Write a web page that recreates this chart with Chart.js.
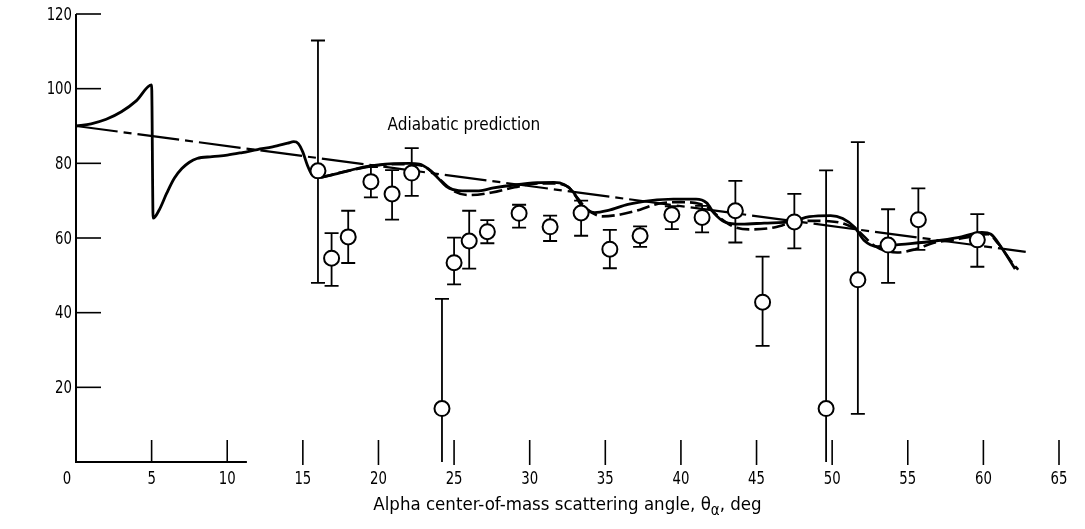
<!DOCTYPE html>
<html>
<head>
<meta charset="utf-8">
<script src="https://cdn.jsdelivr.net/npm/chart.js@4.4.1/dist/chart.umd.min.js"></script>
<style>
  body { margin: 0; background: #fff; }
  #wrap { width: 1085px; height: 529px; }
</style>
</head>
<body>
<div id="wrap"><canvas id="myChart" width="1085" height="529"></canvas></div>
<script>
// axis ticks
var xTicks = [0, 5, 10, 15, 20, 25, 30, 35, 40, 45, 50, 55, 60, 65];
var yTicks = [20, 40, 60, 80, 100, 120];

// measured points with error limits
var angle = [16.0, 16.9, 18.0, 19.5, 20.9, 22.2, 24.2, 25.0, 26.0, 27.2, 29.3, 31.35, 33.4,
             35.3, 37.3, 39.4, 41.4, 43.6, 45.4, 47.5, 49.6, 51.7, 53.7, 55.7, 59.6];
var ratio = [78.0, 54.6, 60.3, 75.1, 71.8, 77.4, 14.3, 53.4, 59.2, 61.7, 66.6, 63.0, 66.7,
             57.0, 60.6, 66.2, 65.5, 67.3, 42.8, 64.3, 14.3, 48.8, 58.1, 64.9, 59.5];
var errLow = [48.0, 47.2, 53.3, 70.9, 64.9, 71.3, 0, 47.6, 51.8, 58.6, 62.8, 59.2, 60.6,
              51.9, 57.6, 62.4, 61.5, 58.8, 31.1, 57.2, 0, 12.9, 48.0, 56.8, 52.3];
var errHigh = [112.9, 61.3, 67.3, 79.0, 78.2, 84.1, 43.7, 60.1, 67.3, 64.8, 68.9, 66.0, 70.0,
               62.2, 63.1, 68.5, 68.6, 75.3, 55.0, 71.8, 78.1, 85.7, 67.7, 73.3, 66.4];

// solid calculated curve
var solidX = [0, 1, 2, 3, 4, 5, 5.1, 5.5, 6, 6.5, 7, 7.5, 8, 9, 10, 11, 12, 13, 14, 14.4, 14.7,
              15, 15.3, 15.6, 16, 17, 18, 19, 20, 21, 22, 22.7, 23.3, 23.9, 24.5, 25.3, 26.5,
              27.6, 29, 30.5, 31.6, 32.3, 32.9, 33.4, 34.3, 35.2, 36.5, 38, 39.5, 41, 41.7,
              42.2, 42.9, 44, 45.5, 47.3, 48.5, 49.9, 50.7, 51.5, 52.1, 53, 54.6, 56.8, 58.3,
              59.9, 60.5, 61.2, 62.1];
var solidY = [90, 90.6, 91.8, 93.8, 96.8, 101, 65.3, 67.5, 72, 76, 78.6, 80.3, 81.3, 81.8, 82.2,
              82.9, 83.7, 84.4, 85.4, 85.8, 85.3, 83, 79.5, 77, 76.2, 77, 78, 79, 79.6, 79.9,
              80, 79.8, 78.5, 76.2, 73.8, 72.7, 72.6, 73.4, 74.2, 74.8, 74.9, 74.3, 72.2, 68.9,
              66.8, 67.4, 69, 70, 70.4, 70.4, 69.4, 66.6, 64.3, 63.7, 64.0, 64.4, 65.7, 66.0,
              65.2, 62.8, 59.4, 57.7, 58.3, 59.2, 60.1, 61.5, 61.0, 57.4, 51.7];

// dashed calculated curve
var dashX = [16.2, 18, 20, 22, 23, 23.6, 24.3, 25, 26, 27.5, 29, 30.5, 31.5, 32.5, 33.1, 33.8,
             34.8, 36, 37.3, 38.5, 40, 41.2, 41.9, 42.7, 43.5, 44.5, 46, 47.3, 48.5, 49.8,
             50.8, 51.7, 52.8, 54.3, 55.5, 56.8, 57.9, 59.5, 60.3, 61, 61.9, 62.3];
var dashY = [76.2, 78, 79.5, 79.8, 79.2, 77.5, 74.8, 72.5, 71.5, 72.2, 73.6, 74.6, 74.6, 73.8,
             71, 67.7, 65.8, 66.3, 67.6, 69.2, 69.6, 69.2, 67.8, 65, 63, 62.3, 62.7, 64, 64.6,
             64.5, 63.8, 61.9, 57.9, 56.1, 57, 58.8, 59.4, 60.6, 61, 58.4, 53.4, 51.5];

// adiabatic prediction line
var adiabaticX = [0, 62.8];
var adiabaticY = [90, 56.3];
var adiabaticLabel = 'Adiabatic prediction';
var adiabaticLabelAt = [20.6, 90];

var xTitle = ['Alpha center-of-mass scattering angle, \u03b8', '\u03b1', ', deg'];

var FONT = '"DejaVu Sans Condensed", "DejaVu Sans", sans-serif';

function pairs(xs, ys) {
    var out = [];
    for (var i = 0; i < xs.length; i++) out.push({x: xs[i], y: ys[i]});
    return out;
}

// horizontally squeezed text
function narrowText(c, text, x, y, align, sx) {
    c.save();
    c.translate(x, y);
    c.scale(sx, 1);
    c.textAlign = align;
    c.fillText(text, 0, 0);
    c.restore();
}

// axes drawn by hand: inward y ticks, floating x ticks, short x axis
var axesPlugin = {
    id: 'axesPlugin',
    beforeDatasetsDraw: function(chart) {
        var c = chart.ctx, xs = chart.scales.x, ys = chart.scales.y;
        var x0 = xs.getPixelForValue(0), y0 = ys.getPixelForValue(0);
        c.save();
        c.strokeStyle = '#000';
        c.fillStyle = '#000';
        c.lineWidth = 2;
        c.beginPath();
        c.moveTo(x0, ys.getPixelForValue(120));
        c.lineTo(x0, y0);
        c.lineTo(xs.getPixelForValue(11.3), y0);
        c.stroke();

        c.lineWidth = 1.6;
        c.font = '18px ' + FONT;
        c.textBaseline = 'middle';
        yTicks.forEach(function(v) {
            var py = ys.getPixelForValue(v);
            c.beginPath();
            c.moveTo(x0, py);
            c.lineTo(x0 + 25, py);
            c.stroke();
            narrowText(c, String(v), x0 - 4, py + 1, 'right', 0.82);
        });

        xTicks.forEach(function(v) {
            var px = xs.getPixelForValue(v);
            if (v > 0) {
                c.beginPath();
                c.moveTo(px, y0 - 22);
                c.lineTo(px, y0 + (v > 10 ? 3 : 0));
                c.stroke();
            }
            narrowText(c, String(v), v === 0 ? px - 9 : px, y0 + 17, 'center', 0.82);
        });

        // error bars
        c.lineWidth = 1.8;
        for (var i = 0; i < angle.length; i++) {
            var px = xs.getPixelForValue(angle[i]);
            var lo = ys.getPixelForValue(errLow[i]);
            var hi = ys.getPixelForValue(errHigh[i]);
            c.beginPath();
            c.moveTo(px, lo);
            c.lineTo(px, hi);
            c.moveTo(px - 7, hi);
            c.lineTo(px + 7, hi);
            if (errLow[i] > 0) {
                c.moveTo(px - 7, lo);
                c.lineTo(px + 7, lo);
            }
            c.stroke();
        }
        c.restore();
    },
    afterDraw: function(chart) {
        var c = chart.ctx, xs = chart.scales.x, ys = chart.scales.y;
        c.save();
        c.fillStyle = '#000';
        c.textBaseline = 'middle';
        c.textAlign = 'left';
        c.font = '17px ' + FONT;
        c.fillText(adiabaticLabel, xs.getPixelForValue(adiabaticLabelAt[0]), ys.getPixelForValue(adiabaticLabelAt[1]));

        // x title with subscript alpha
        var big = '18.5px ' + FONT, small = '15px ' + FONT;
        c.font = big;
        var w0 = c.measureText(xTitle[0]).width;
        var w2 = c.measureText(xTitle[2]).width;
        c.font = small;
        var w1 = c.measureText(xTitle[1]).width;
        var cx = (xs.getPixelForValue(0) + xs.getPixelForValue(65)) / 2;
        var left = cx - (w0 + w1 + w2) / 2;
        var base = ys.getPixelForValue(0) + 48;
        c.textBaseline = 'alphabetic';
        c.font = big;
        c.fillText(xTitle[0], left, base);
        c.font = small;
        c.fillText(xTitle[1], left + w0, base + 5);
        c.font = big;
        c.fillText(xTitle[2], left + w0 + w1, base);
        c.restore();
    }
};

var ctx = document.getElementById('myChart').getContext('2d');
var myChart = new Chart(ctx, {
    type: 'line',
    data: {
        datasets: [{
            type: 'scatter',
            label: 'Measured',
            data: pairs(angle, ratio),
            pointRadius: 7.5,
            pointBackgroundColor: '#fff',
            pointBorderColor: '#000',
            pointBorderWidth: 2,
            order: 0
        }, {
            label: 'Solid',
            data: pairs(solidX, solidY),
            borderColor: '#000',
            borderWidth: 2.8,
            pointRadius: 0,
            cubicInterpolationMode: 'monotone',
            fill: false,
            order: 1
        }, {
            label: 'Dashed',
            data: pairs(dashX, dashY),
            borderColor: '#000',
            borderWidth: 2.6,
            borderDash: [13, 5],
            pointRadius: 0,
            cubicInterpolationMode: 'monotone',
            fill: false,
            order: 2
        }, {
            label: adiabaticLabel,
            data: pairs(adiabaticX, adiabaticY),
            borderColor: '#000',
            borderWidth: 2.2,
            borderDash: [42, 6, 8, 6],
            pointRadius: 0,
            fill: false,
            order: 3
        }]
    },
    options: {
        responsive: false,
        animation: false,
        layout: { padding: { left: 76, right: 26, top: 14, bottom: 67 } },
        plugins: { legend: { display: false }, tooltip: { enabled: false } },
        scales: {
            x: { type: 'linear', min: 0, max: 65, display: false },
            y: { type: 'linear', min: 0, max: 120, display: false }
        }
    },
    plugins: [axesPlugin]
});
</script>
</body>
</html>
